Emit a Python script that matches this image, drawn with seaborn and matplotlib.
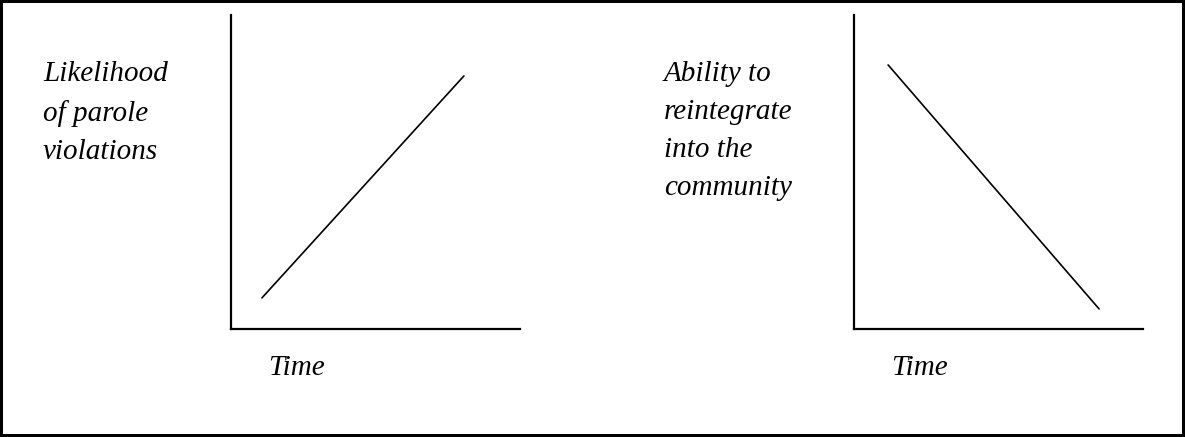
import matplotlib
matplotlib.use("Agg")
import matplotlib.pyplot as plt
import pandas as pd
import seaborn as sns

# data (axes units 0..1)
time_left = [0.107, 0.806]
parole_violations = [0.099, 0.806]
time_right = [0.118, 0.848]
reintegration = [0.841, 0.064]

left_label = "Likelihood\nof parole\nviolations"
right_label = "Ability to\nreintegrate\ninto the\ncommunity"
x_label = "Time"

sns.set_theme(style="white")
plt.rcParams['font.family'] = ['Liberation Serif', 'DejaVu Serif']
plt.rcParams['text.color'] = 'black'

W, H = 1185, 437
fig = plt.figure(figsize=(W / 100, H / 100), dpi=100)
fig.patch.set_edgecolor("black")
fig.patch.set_linewidth(3)

def px_axes(x0, x1, y_top, y_bot):
    return fig.add_axes([x0 / W, 1 - y_bot / H, (x1 - x0) / W, (y_bot - y_top) / H])

ax1 = px_axes(231, 520, 15, 329)
ax2 = px_axes(854, 1143, 15, 329)

df1 = pd.DataFrame({"time": time_left, "value": parole_violations})
df2 = pd.DataFrame({"time": time_right, "value": reintegration})
sns.lineplot(data=df1, x="time", y="value", ax=ax1, color="black", linewidth=1.2)
sns.lineplot(data=df2, x="time", y="value", ax=ax2, color="black", linewidth=1.2)

for ax in (ax1, ax2):
    ax.set_xlim(0, 1)
    ax.set_ylim(0, 1)
    ax.set_xticks([])
    ax.set_yticks([])
    ax.set_xlabel("")
    ax.set_ylabel("")
    ax.set_facecolor("none")
    for s in ("top", "right"):
        ax.spines[s].set_visible(False)
    for s in ("left", "bottom"):
        ax.spines[s].set_color("black")
        ax.spines[s].set_linewidth(1.6)

# labels as free text, like the original drawing
fs = 21
fig.text(43 / W, 1 - 61 / H, left_label, fontsize=fs, style="italic",
         va="top", ha="left", linespacing=1.6, color="black")
fig.text(664 / W, 1 - 61 / H, right_label, fontsize=fs, style="italic",
         va="top", ha="left", linespacing=1.6, color="black")
fig.text(268 / W, 1 - 368 / H, x_label, fontsize=fs, style="italic",
         va="center", ha="left", color="black")
fig.text(891 / W, 1 - 368 / H, x_label, fontsize=fs, style="italic",
         va="center", ha="left", color="black")

fig.savefig("out.png", dpi=100, facecolor="white", edgecolor="black")
